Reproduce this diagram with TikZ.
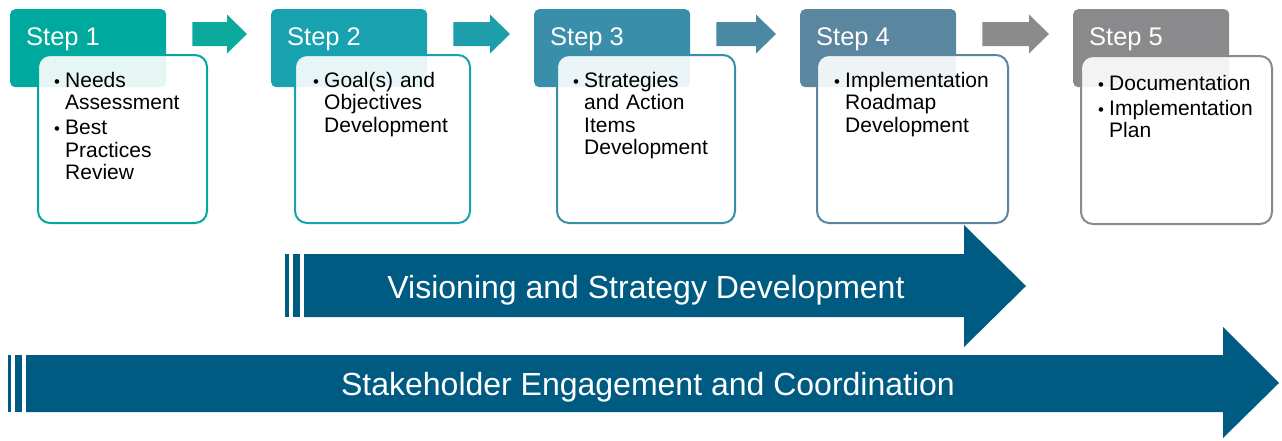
\documentclass[tikz,border=0pt]{standalone}
\usepackage{fontspec}
\setmainfont{Liberation Sans}
\usetikzlibrary{calc,positioning}
\definecolor{stepA}{HTML}{00A99D}
\definecolor{stepB}{HTML}{18A2AF}
\definecolor{stepC}{HTML}{398FAA}
\definecolor{stepD}{HTML}{5B86A0}
\definecolor{stepE}{HTML}{8A8A8C}
\definecolor{arA}{HTML}{0BAA9C}
\definecolor{arB}{HTML}{1E9DAB}
\definecolor{arC}{HTML}{4B88A3}
\definecolor{arD}{HTML}{8B8B8B}
\definecolor{bandblue}{HTML}{005B82}
\newcommand{\bitem}[1]{\parskip=2.5pt\hangindent=11pt\hangafter=1\noindent\hbox to 11pt{\scalebox{0.8}{\textbullet}\hss}#1\par}

\begin{document}
\begin{tikzpicture}[x=1pt,y=-1pt,
	stephead/.style={anchor=north west,minimum width=156pt,minimum height=78pt,rounded corners=5pt,inner sep=0pt},
	steptitle/.style={anchor=base west,text=white,font=\fontsize{25.5}{30}\selectfont,inner sep=0pt},
	stepbox/.style={anchor=north west,draw,line width=2pt,fill=white,fill opacity=0.9,rounded corners=12pt,minimum height=168pt,inner sep=0pt},
	steptext/.style={anchor=base west,inner sep=0pt,font=\fontsize{21}{22.5}\selectfont},
	bandtext/.style={anchor=base,text=white,font=\fontsize{32}{36}\selectfont,inner sep=0pt}]
	\useasboundingbox (0,0) rectangle (1282,440);
	% step headers
	\node[stephead,fill=stepA] (hd1) at (10,9) {};
	\node[stephead,fill=stepB] (hd2) at (271,9) {};
	\node[stephead,fill=stepC] (hd3) at (534,9) {};
	\node[stephead,fill=stepD] (hd4) at (800,9) {};
	\node[stephead,fill=stepE] (hd5) at (1073,9) {};
	\node[steptitle] (st1) at ([shift={(16,36)}]hd1.north west) {Step 1};
	\node[steptitle] (st2) at ([shift={(16,36)}]hd2.north west) {Step 2};
	\node[steptitle] (st3) at ([shift={(16,36)}]hd3.north west) {Step 3};
	\node[steptitle] (st4) at ([shift={(16,36)}]hd4.north west) {Step 4};
	\node[steptitle] (st5) at ([shift={(16,36)}]hd5.north west) {Step 5};
	% arrows between the steps
	\foreach \a/\b/\c in {hd1/hd2/arA,hd2/hd3/arB,hd3/hd4/arC,hd4/hd5/arD}
		\fill[\c] let \p1=([shift={(26,25)}]\a.north east), \p2=([shift={(-24,25)}]\b.north west) in
			(\x1,{\y1+12pt}) -- ({\x2-20pt},{\y1+12pt}) -- ({\x2-20pt},{\y1+19.5pt}) -- (\x2,\y1)
			-- ({\x2-20pt},{\y1-19.5pt}) -- ({\x2-20pt},{\y1-12pt}) -- (\x1,{\y1-12pt}) -- cycle;
	% step boxes
	\node[stepbox,draw=stepA,minimum width=169pt] (bx1) at (37,54) {};
	\node[stepbox,draw=stepB,minimum width=175pt] (bx2) at (294,54) {};
	\node[stepbox,draw=stepC,minimum width=178pt] (bx3) at (556,54) {};
	\node[stepbox,draw=stepD,minimum width=191pt] (bx4) at (816,54) {};
	\node[stepbox,draw=stepE,minimum width=191pt] (bx5) at (1080,55) {};
	\node[steptext,text width=150pt] (tx1) at ([shift={(17,33)}]bx1.north west)
		{\bitem{Needs\newline Assessment}\bitem{Best\newline Practices\newline Review}};
	\node[steptext,text width=150pt] (tx2) at ([shift={(19,33)}]bx2.north west)
		{\bitem{Goal(s) and\newline Objectives\newline Development}};
	\node[steptext,text width=160pt] (tx3) at ([shift={(17,33)}]bx3.north west)
		{\bitem{Strategies\newline and Action\newline Items\newline Development}};
	\node[steptext,text width=170pt] (tx4) at ([shift={(18,33)}]bx4.north west)
		{\bitem{Implementation\newline Roadmap\newline Development}};
	\node[steptext,text width=170pt] (tx5) at ([shift={(18,35)}]bx5.north west)
		{\bitem{Documentation}\bitem{Implementation\newline Plan}};
	% visioning band
	\fill[bandblue] (285,254) rectangle (289,317);
	\fill[bandblue] (293,254) rectangle (300,317);
	\fill[bandblue] (304,254) -- (964,254) -- (964,225) -- (1026,286) -- (964,347) -- (964,317) -- (304,317) -- cycle;
	\node[bandtext] (vis) at (646,298) {Visioning and Strategy Development};
	% stakeholder band
	\fill[bandblue] (8,355) rectangle (11,412);
	\fill[bandblue] (15,355) rectangle (22,412);
	\fill[bandblue] (26,355) -- (1223,355) -- (1223,327) -- (1279,383) -- (1223,438) -- (1223,412) -- (26,412) -- cycle;
	\node[bandtext] (stk) at (648,395) {Stakeholder Engagement and Coordination};
\end{tikzpicture}
\end{document}
